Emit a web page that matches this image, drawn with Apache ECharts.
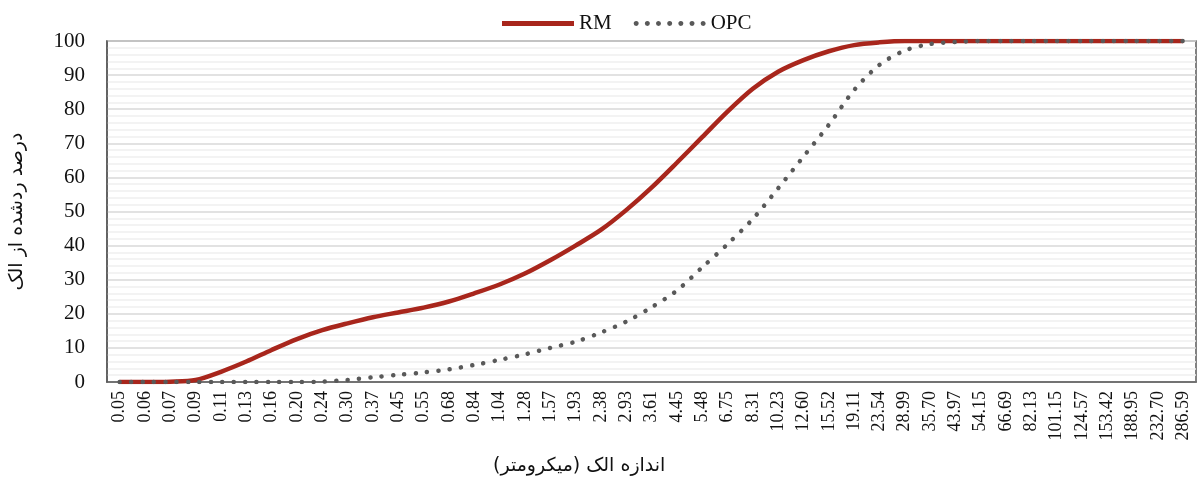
<!DOCTYPE html>
<html>
<head>
<meta charset="utf-8">
<script src="https://cdn.jsdelivr.net/npm/echarts@6/dist/echarts.min.js"></script>
<style>
  html, body { margin: 0; padding: 0; background: #fff; }
  #sieve-chart { width: 1200px; height: 479px; }
</style>
</head>
<body>
<div id="sieve-chart"></div>
<script>
// اندازه الک (میکرومتر)
const sizes = ['0.05', '0.06', '0.07', '0.09', '0.11', '0.13', '0.16', '0.20', '0.24', '0.30',
  '0.37', '0.45', '0.55', '0.68', '0.84', '1.04', '1.28', '1.57', '1.93', '2.38',
  '2.93', '3.61', '4.45', '5.48', '6.75', '8.31', '10.23', '12.60', '15.52', '19.11',
  '23.54', '28.99', '35.70', '43.97', '54.15', '66.69', '82.13', '101.15', '124.57', '153.42',
  '188.95', '232.70', '286.59'];

const rmValues = [0, 0, 0.1, 0.6, 3, 6, 9.4, 12.6, 15.2, 17.2,
  19, 20.4, 21.8, 23.6, 26, 28.6, 31.8, 35.7, 40, 44.6,
  50.4, 57, 64.3, 71.8, 79.3, 86, 91, 94.4, 97, 98.8,
  99.6, 100, 100, 100, 100, 100, 100, 100, 100, 100,
  100, 100, 100];

const opcValues = [0, 0, 0, 0, 0, 0, 0, 0, 0.1, 0.6,
  1.4, 2.1, 2.8, 3.7, 5, 6.5, 8.1, 10, 11.8, 14.5,
  17.7, 21.9, 26.8, 33.6, 40.4, 47.8, 56.8, 66.1, 75.4, 85.6,
  93, 97.2, 99.1, 99.7, 100, 100, 100, 100, 100, 100,
  100, 100, 100];

const yTicks = { min: 0, max: 100, interval: 10 };

const serif = '"Liberation Serif", "Times New Roman", serif';
const persian = '"DejaVu Sans", sans-serif';

// legend glyphs: a thick bar for RM, a row of round dots for OPC
const barIcon = 'path://M0,0H72V5H0Z';
let dotIcon = 'path://';
for (let k = 0; k < 7; k++) {
  const cx = 2.5 + k * 11.17;
  dotIcon += 'M' + (cx - 2.5) + ',2.5a2.5,2.5 0 1,0 5,0a2.5,2.5 0 1,0 -5,0';
}

const chart = echarts.init(document.getElementById('sieve-chart'));
chart.setOption({
  animation: false,
  backgroundColor: '#fff',
  title: {
    text: 'اندازه الک (میکرومتر)',
    left: 488,
    top: 452,
    textStyle: { fontFamily: persian, fontSize: 19, fontWeight: 'normal', color: '#111' }
  },
  legend: {
    top: 8,
    left: 497,
    itemWidth: 72,
    itemHeight: 5,
    itemGap: 22,
    textStyle: { fontFamily: serif, fontSize: 21, color: '#111' },
    data: [
      { name: 'RM', icon: barIcon },
      { name: 'OPC', icon: dotIcon }
    ]
  },
  grid: {
    left: 107,
    right: 4,
    top: 41,
    bottom: 97,
    show: true,
    borderColor: '#595959',
    borderWidth: 1.5
  },
  xAxis: {
    type: 'category',
    data: sizes,
    boundaryGap: true,
    axisLine: { lineStyle: { color: '#595959', width: 1.5 } },
    axisTick: { show: false },
    axisLabel: {
      interval: 0,
      rotate: 90,
      margin: 9,
      fontFamily: serif,
      fontSize: 18,
      color: '#111'
    }
  },
  yAxis: {
    type: 'value',
    min: yTicks.min,
    max: yTicks.max,
    interval: yTicks.interval,
    name: 'درصد ردشده از الک',
    nameLocation: 'middle',
    nameGap: 80,
    nameRotate: 90,
    nameTextStyle: { fontFamily: persian, fontSize: 19, color: '#111' },
    axisLine: { show: true, lineStyle: { color: '#595959', width: 1.5 } },
    axisTick: { show: false },
    axisLabel: { fontFamily: serif, fontSize: 21, color: '#111', margin: 22 },
    splitLine: { lineStyle: { color: '#d9d9d9', width: 1.5 } },
    minorTick: { show: false, splitNumber: 5 },
    minorSplitLine: { show: true, lineStyle: { color: '#efefef', width: 1.5 } }
  },
  series: [
    {
      name: 'RM',
      type: 'line',
      data: rmValues,
      smooth: 0.3,
      symbol: 'none',
      z: 2,
      itemStyle: { color: '#A8261C' },
      lineStyle: { color: '#A8261C', width: 4.5 }
    },
    {
      name: 'OPC',
      type: 'line',
      data: opcValues,
      smooth: 0.3,
      symbol: 'none',
      z: 3,
      itemStyle: { color: '#595959' },
      lineStyle: { color: '#595959', width: 4.5, type: [0.1, 11.3], cap: 'round' }
    }
  ]
});
</script>
</body>
</html>
